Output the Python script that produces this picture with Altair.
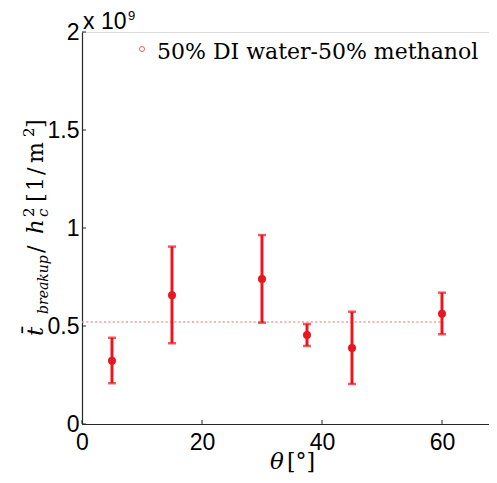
import altair as alt
import pandas as pd

# ---- data (values in units of 1e9 1/m^2) ----
theta = [5, 15, 30, 37.5, 45, 60]
mean_val = [0.323, 0.657, 0.740, 0.454, 0.388, 0.563]
upper_val = [0.440, 0.905, 0.964, 0.510, 0.573, 0.670]
lower_val = [0.208, 0.412, 0.517, 0.398, 0.204, 0.458]
avg_line_x = [0, 60]
avg_line_y = [0.52, 0.52]
x_ticks = [0, 20, 40, 60]
y_ticks = [0, 0.5, 1, 1.5, 2]
legend_label = "50% DI water-50% methanol"

RED = "#e8161e"
AX = "#262626"
SANS = "Liberation Sans"
SERIF = "DejaVu Serif"

W, H = 407, 392

df = pd.DataFrame({"theta": theta, "mean": mean_val, "hi": upper_val, "lo": lower_val})
df_line = pd.DataFrame({"theta": avg_line_x, "v": avg_line_y})

xs = alt.Scale(domain=[0, W / 6.0], nice=False, zero=False)
ys = alt.Scale(domain=[0, 2], nice=False)

xaxis = alt.Axis(values=x_ticks, ticks=False, grid=False, domainColor=AX, domainWidth=1.2,
                 labelFont=SANS, labelFontSize=23, labelColor="black", labelPadding=7,
                 labelFlush=False, title=None)
yaxis = alt.Axis(values=y_ticks, ticks=False, grid=False, domainColor=AX, domainWidth=1.2,
                 labelFont=SANS, labelFontSize=23, labelColor="black", labelPadding=3,
                 format="~g", labelFlush=False, title=None)

base = alt.Chart(df)

avg = alt.Chart(df_line).mark_line(color="#f29a9a", strokeDash=[2, 2.4], strokeWidth=1.5).encode(
    x=alt.X("theta:Q", scale=xs, axis=xaxis),
    y=alt.Y("v:Q", scale=ys, axis=yaxis),
)

bars = base.mark_rule(color=RED, strokeWidth=3).encode(
    x=alt.X("theta:Q", scale=xs), y=alt.Y("lo:Q", scale=ys), y2="hi:Q"
)
cap_hi = base.mark_tick(color=RED, orient="horizontal", size=8, thickness=2.5).encode(
    x=alt.X("theta:Q", scale=xs), y=alt.Y("hi:Q", scale=ys)
)
cap_lo = base.mark_tick(color=RED, orient="horizontal", size=8, thickness=2.5).encode(
    x=alt.X("theta:Q", scale=xs), y=alt.Y("lo:Q", scale=ys)
)
pts = base.mark_point(color=RED, filled=True, opacity=1, size=64).encode(
    x=alt.X("theta:Q", scale=xs), y=alt.Y("mean:Q", scale=ys)
)

# inward ticks
xt = alt.Chart(pd.DataFrame({"t": x_ticks})).mark_rule(color=AX, strokeWidth=1).encode(
    x=alt.X("t:Q", scale=xs), y=alt.value(H), y2=alt.value(H - 4)
)
yt = alt.Chart(pd.DataFrame({"t": y_ticks})).mark_rule(color=AX, strokeWidth=1).encode(
    y=alt.Y("t:Q", scale=ys), x=alt.value(0), x2=alt.value(4)
)


def txt(s, x, y, size, font=SERIF, style="normal", angle=0, align="left", baseline="alphabetic"):
    return alt.Chart(pd.DataFrame({"s": [s]})).mark_text(
        text=s, font=font, fontSize=size, fontStyle=style, angle=angle, align=align,
        baseline=baseline, color="black"
    ).encode(x=alt.value(x), y=alt.value(y))


# legend
leg_marker = alt.Chart(pd.DataFrame({"s": [legend_label]})).mark_point(
    color=RED, shape="circle", filled=False, size=25, strokeWidth=1
).encode(x=alt.value(60), y=alt.value(17))
leg_text = txt(legend_label, 75, 27, 22)

# exponent
exp1 = txt("x 10", 1, -3, 23, font=SANS)
exp2 = txt("9", 46, -12, 13, font=SANS)

# x title
xt1 = txt("θ", 188, 437, 23, style="italic")
xt2 = txt("[°]", 205, 437, 22)

# y title (rotated pieces)
MB = -39   # main baseline
SB = -34   # subscript baseline
PB = -48   # superscript baseline
ytitle = [
    txt("t\u0304", MB, 304, 23, style="italic", angle=270),
    txt("breakup", SB, 282, 14, style="italic", angle=270),
    txt("/", MB, 221, 22, angle=270),
    txt("h", MB, 202, 23, style="italic", angle=270),
    txt("c", SB, 185, 15, style="italic", angle=270),
    txt("2", PB, 185, 15, angle=270),
    txt("[", MB, 170, 22, angle=270),
    txt("1", MB, 159, 22, angle=270),
    txt("/", MB, 143, 22, angle=270),
    txt("m", MB, 131, 22, angle=270),
    txt("2", PB, 105, 15, angle=270),
    txt("]", MB, 96, 22, angle=270),
]

chart = alt.layer(
    avg, xt, yt, bars, cap_hi, cap_lo, pts, leg_marker, leg_text, exp1, exp2, xt1, xt2, *ytitle
).properties(
    width=W, height=H,
    autosize=alt.AutoSizeParams(type="none"),
    padding={"left": 74, "top": 24, "right": 0, "bottom": 51},
).configure_view(stroke=None).configure(background="white")

chart.save("out.html", embed_options={"renderer": "svg", "actions": False})
